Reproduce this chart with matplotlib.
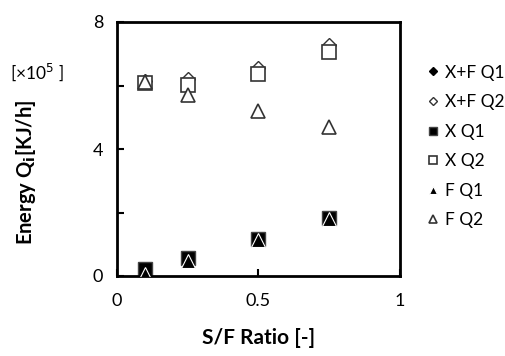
import numpy as np
import matplotlib.pyplot as plt

plt.rcParams['font.family'] = ['Lato', 'DejaVu Sans']

# S/F ratio
x = [0.1, 0.25, 0.5, 0.75]

# energia (x10^5 KJ/h)
xf_q1 = [0.15, 0.52, 1.15, 1.82]
xf_q2 = [6.15, 6.20, 6.56, 7.28]
x_q1 = [0.21, 0.58, 1.16, 1.83]
x_q2 = [6.08, 6.01, 6.36, 7.07]
f_q1 = [0.05, 0.47, 1.13, 1.81]
f_q2 = [6.10, 5.70, 5.19, 4.69]

fig = plt.figure(figsize=(5.06, 3.56), dpi=100)
ax = fig.add_axes([117/506, 1 - 276/356, 283/506, 254/356])

ax.plot(x, x_q2, 's', ms=10, mfc='white', mec='#333333', mew=1.2, label='X Q2', zorder=2)
ax.plot(x, xf_q2, 'D', ms=7.5, mfc='white', mec='#333333', mew=1.0, label='X+F Q2', zorder=1)
ax.plot(x, f_q2, '^', ms=10, mfc='white', mec='#333333', mew=1.2, label='F Q2', zorder=3)
ax.plot(x, x_q1, 's', ms=10, mfc='black', mec='#444444', mew=1.0, label='X Q1', zorder=2)
ax.plot(x, xf_q1, 'D', ms=7.5, mfc='black', mec='black', label='X+F Q1', zorder=1)
ax.plot(x, f_q1, '^', ms=10, mfc='black', mec='white', mew=0.8, label='F Q1', zorder=3)

ax.set_xlim(0, 1)
ax.set_ylim(0, 8)
ax.set_xticks([0, 0.5, 1])
ax.set_xticklabels(['0', '0.5', '1'])
ax.set_yticks([0, 2, 4, 6, 8])
ax.set_yticklabels(['0', '', '4', '', '8'])
ax.tick_params(direction='in', length=5, width=1.5, labelsize=13)
ax.tick_params(axis='x', pad=12)
ax.tick_params(axis='y', pad=10)
for s in ax.spines.values():
    s.set_linewidth(2)

ax.set_xlabel('S/F Ratio [-]', fontsize=15, fontweight='bold')
ax.xaxis.set_label_coords(0.5, -0.205)
ax.set_ylabel('Energy Q$_\\mathbf{i}$[KJ/h]', fontsize=14.5, fontweight='bold')
ax.yaxis.set_label_coords(-0.28, 0.41)
fig.text(10/506, 1 - 72/356, '[×10$^5$ ]', fontsize=12.5, va='center')

handles, labels = ax.get_legend_handles_labels()
order = ['X+F Q1', 'X+F Q2', 'X Q1', 'X Q2', 'F Q1', 'F Q2']
hmap = dict(zip(labels, handles))
ax.legend([hmap[k] for k in order], order, loc='upper left', bbox_to_anchor=(1.07, 0.86),
          frameon=False, fontsize=12.5, markerscale=0.55, handlelength=0.7, handletextpad=0.35,
          labelspacing=0.78, borderaxespad=0)

plt.savefig('out.png', dpi=100)
